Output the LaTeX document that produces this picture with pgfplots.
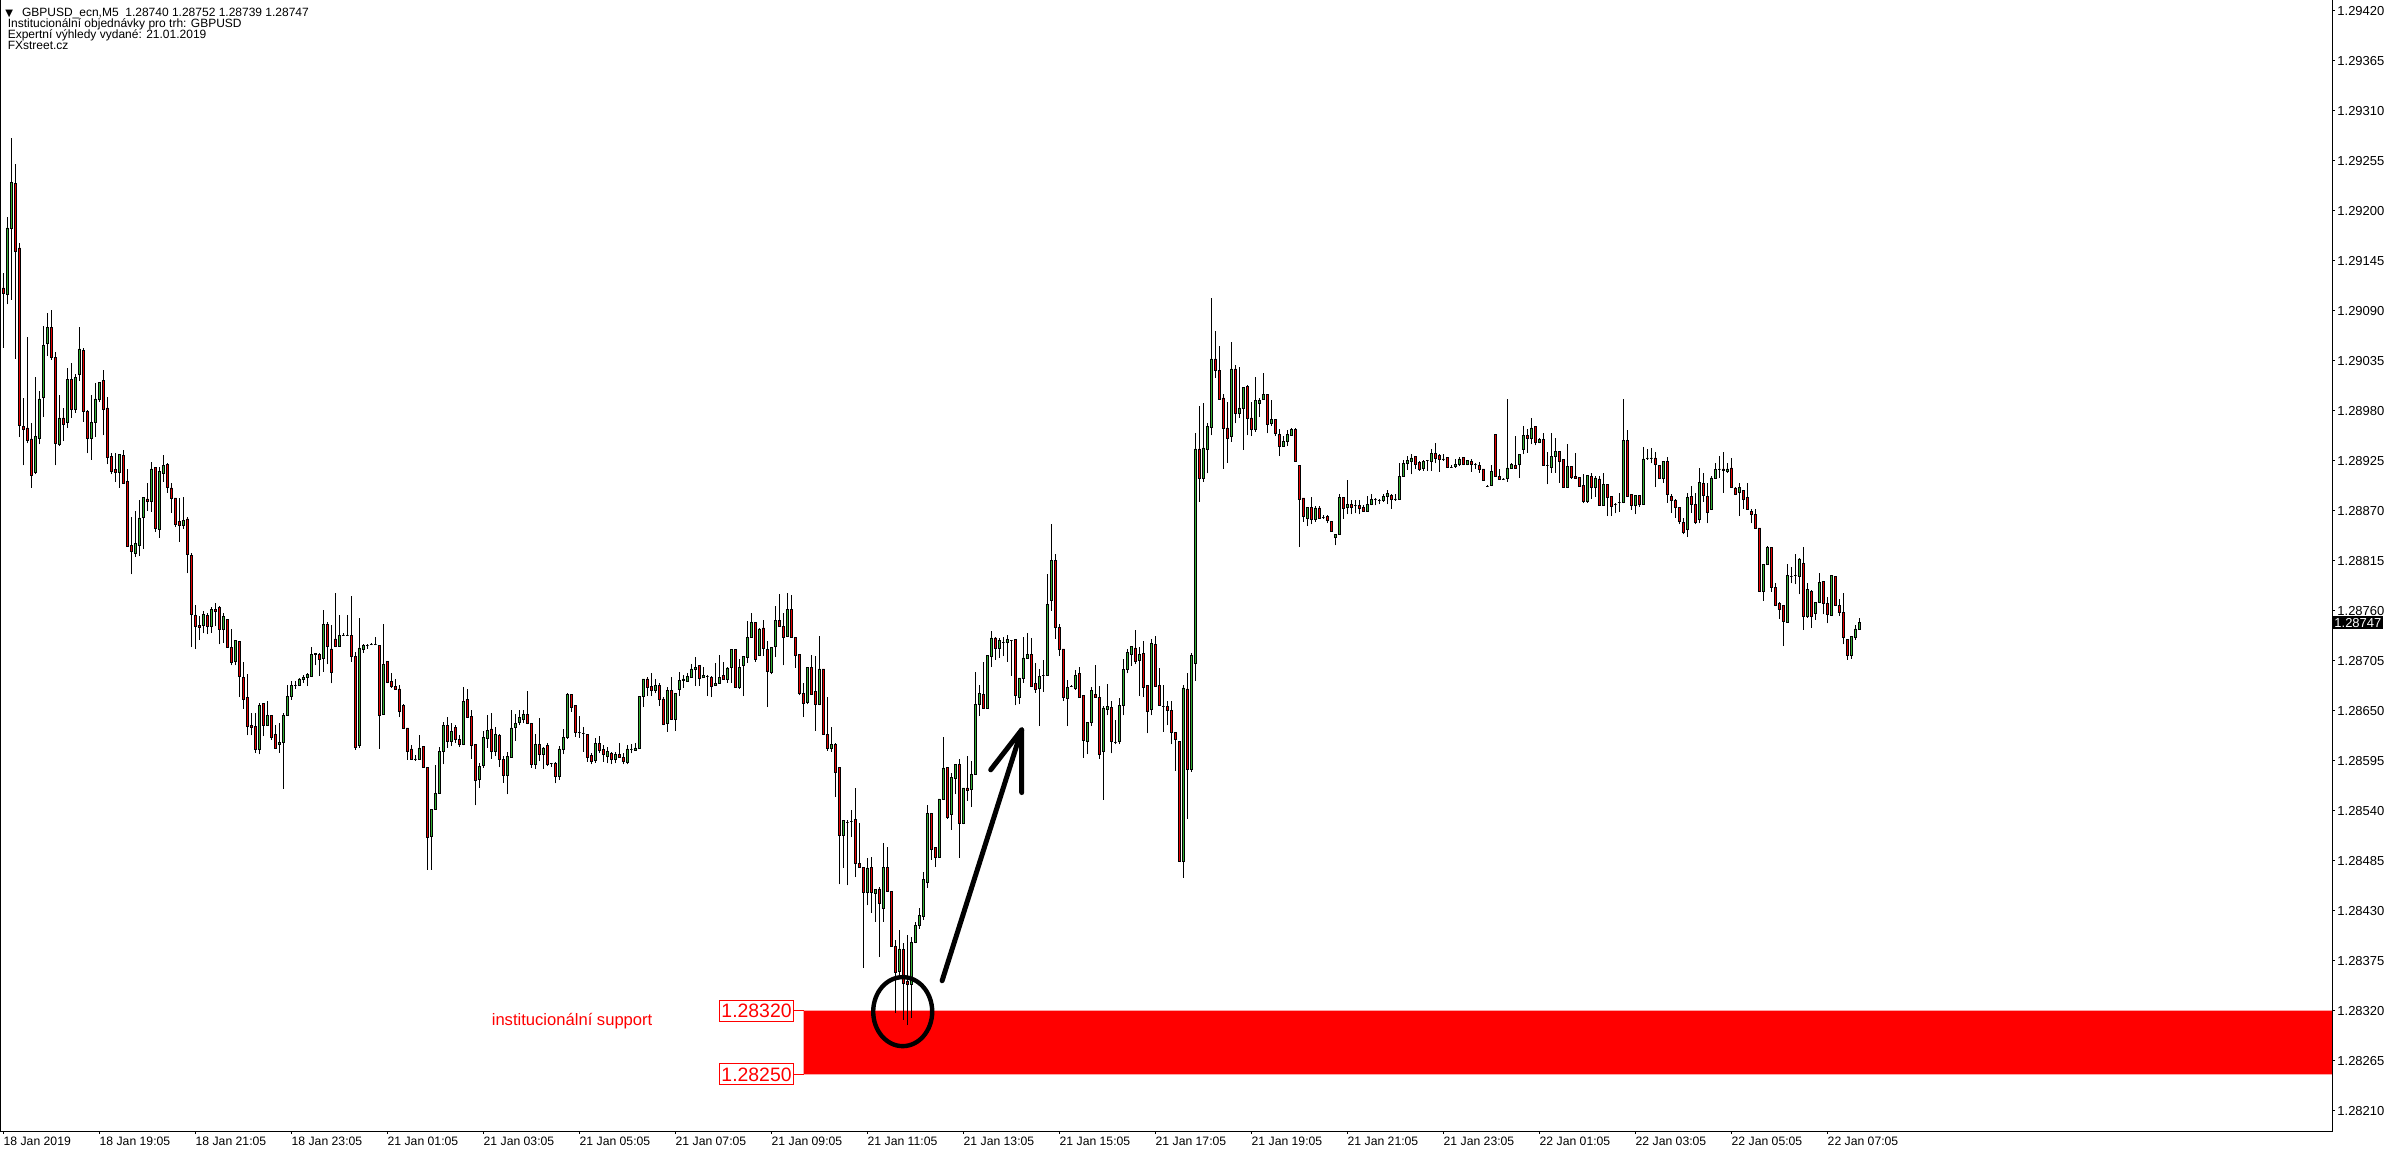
\documentclass[border=0pt]{standalone}
\usepackage{fontspec}
\setmainfont{Liberation Sans}
\newfontfamily\dejavu{DejaVu Sans}
\usepackage{pgfplots}
\usepackage{pgfplotstable}
\pgfplotsset{compat=1.18}
\definecolor{bull}{RGB}{50,175,50}
\definecolor{bear}{RGB}{230,0,0}
\pgfplotstableread{
x o h l c
0 1.29115 1.29131 1.29049 1.29109
1 1.29108 1.29193 1.29097 1.29181
2 1.29181 1.29280 1.29102 1.29231
3 1.29230 1.29251 1.29037 1.29155
4 1.29159 1.29164 1.28951 1.28964
5 1.28963 1.28994 1.28920 1.28960
6 1.28961 1.29061 1.28944 1.28947
7 1.28949 1.28967 1.28895 1.28909
8 1.28912 1.29017 1.28910 1.28952
9 1.28950 1.29002 1.28943 1.28993
10 1.28995 1.29073 1.28973 1.29052
11 1.29054 1.29088 1.29040 1.29072
12 1.29072 1.29091 1.29036 1.29039
13 1.29039 1.29045 1.28920 1.28944
14 1.28943 1.28997 1.28941 1.28972
15 1.28972 1.28983 1.28947 1.28965
16 1.28967 1.29027 1.28961 1.29014
17 1.29014 1.29032 1.28972 1.28982
18 1.28981 1.29020 1.28978 1.29017
19 1.29020 1.29072 1.29013 1.29048
20 1.29046 1.29049 1.28968 1.28979
21 1.28979 1.28981 1.28933 1.28950
22 1.28950 1.28997 1.28926 1.28967
23 1.28967 1.29010 1.28951 1.28993
24 1.28993 1.29011 1.28990 1.29011
25 1.29013 1.29025 1.28953 1.28982
26 1.28983 1.28995 1.28921 1.28929
27 1.28930 1.28933 1.28910 1.28913
28 1.28915 1.28933 1.28902 1.28912
29 1.28912 1.28932 1.28895 1.28932
30 1.28931 1.28937 1.28900 1.28900
31 1.28902 1.28916 1.28831 1.28831
32 1.28832 1.28863 1.28800 1.28825
33 1.28823 1.28870 1.28819 1.28834
34 1.28832 1.28882 1.28820 1.28862
35 1.28863 1.28885 1.28828 1.28885
36 1.28883 1.28901 1.28870 1.28880
37 1.28880 1.28924 1.28869 1.28916
38 1.28918 1.28918 1.28847 1.28851
39 1.28850 1.28918 1.28840 1.28913
40 1.28911 1.28931 1.28902 1.28920
41 1.28921 1.28923 1.28890 1.28896
42 1.28895 1.28901 1.28868 1.28884
43 1.28884 1.28884 1.28852 1.28855
44 1.28858 1.28884 1.28836 1.28854
45 1.28854 1.28885 1.28850 1.28859
46 1.28861 1.28863 1.28801 1.28822
47 1.28821 1.28824 1.28720 1.28756
48 1.28755 1.28766 1.28718 1.28743
49 1.28744 1.28754 1.28728 1.28742
50 1.28744 1.28760 1.28735 1.28756
51 1.28755 1.28758 1.28734 1.28743
52 1.28743 1.28764 1.28736 1.28761
53 1.28761 1.28769 1.28743 1.28759
54 1.28764 1.28765 1.28723 1.28739
55 1.28739 1.28758 1.28725 1.28754
56 1.28750 1.28751 1.28720 1.28720
57 1.28720 1.28740 1.28700 1.28703
58 1.28704 1.28728 1.28700 1.28727
59 1.28726 1.28727 1.28665 1.28688
60 1.28687 1.28704 1.28652 1.28663
61 1.28665 1.28690 1.28623 1.28633
62 1.28634 1.28648 1.28623 1.28632
63 1.28633 1.28648 1.28604 1.28608
64 1.28608 1.28658 1.28602 1.28656
65 1.28658 1.28658 1.28622 1.28634
66 1.28634 1.28661 1.28633 1.28645
67 1.28645 1.28645 1.28618 1.28621
68 1.28624 1.28634 1.28608 1.28609
69 1.28613 1.28637 1.28604 1.28615
70 1.28615 1.28648 1.28564 1.28645
71 1.28645 1.28678 1.28644 1.28666
72 1.28666 1.28683 1.28662 1.28678
73 1.28678 1.28683 1.28674 1.28678
74 1.28678 1.28686 1.28677 1.28685
75 1.28685 1.28689 1.28681 1.28687
76 1.28687 1.28692 1.28677 1.28690
77 1.28688 1.28720 1.28687 1.28712
78 1.28712 1.28714 1.28700 1.28713
79 1.28712 1.28714 1.28688 1.28706
80 1.28708 1.28761 1.28693 1.28745
81 1.28745 1.28748 1.28701 1.28721
82 1.28718 1.28744 1.28680 1.28692
83 1.28729 1.28779 1.28720 1.28721
84 1.28721 1.28755 1.28721 1.28733
85 1.28733 1.28735 1.28732 1.28733
86 1.28733 1.28755 1.28732 1.28733
87 1.28733 1.28776 1.28704 1.28710
88 1.28710 1.28715 1.28607 1.28610
89 1.28612 1.28752 1.28609 1.28719
90 1.28718 1.28723 1.28714 1.28722
91 1.28722 1.28723 1.28718 1.28722
92 1.28723 1.28724 1.28722 1.28723
93 1.28723 1.28731 1.28722 1.28723
94 1.28722 1.28722 1.28608 1.28645
95 1.28646 1.28745 1.28646 1.28701
96 1.28704 1.28704 1.28680 1.28681
97 1.28682 1.28691 1.28675 1.28677
98 1.28677 1.28685 1.28673 1.28674
99 1.28674 1.28678 1.28643 1.28649
100 1.28656 1.28657 1.28630 1.28631
101 1.28631 1.28631 1.28596 1.28605
102 1.28608 1.28612 1.28596 1.28597
103 1.28597 1.28601 1.28595 1.28597
104 1.28597 1.28623 1.28596 1.28609
105 1.28611 1.28611 1.28588 1.28588
106 1.28588 1.28588 1.28475 1.28511
107 1.28512 1.28542 1.28475 1.28541
108 1.28541 1.28590 1.28541 1.28559
109 1.28559 1.28610 1.28559 1.28605
110 1.28605 1.28638 1.28591 1.28634
111 1.28634 1.28643 1.28609 1.28616
112 1.28616 1.28636 1.28611 1.28627
113 1.28632 1.28634 1.28615 1.28619
114 1.28618 1.28623 1.28610 1.28613
115 1.28613 1.28676 1.28612 1.28660
116 1.28662 1.28674 1.28643 1.28643
117 1.28644 1.28651 1.28597 1.28612
118 1.28613 1.28613 1.28546 1.28573
119 1.28575 1.28593 1.28565 1.28589
120 1.28590 1.28628 1.28587 1.28621
121 1.28620 1.28645 1.28609 1.28628
122 1.28630 1.28647 1.28597 1.28605
123 1.28605 1.28632 1.28600 1.28624
124 1.28623 1.28624 1.28588 1.28596
125 1.28596 1.28600 1.28571 1.28579
126 1.28579 1.28605 1.28558 1.28600
127 1.28599 1.28651 1.28598 1.28631
128 1.28632 1.28646 1.28617 1.28636
129 1.28637 1.28651 1.28634 1.28643
130 1.28641 1.28651 1.28636 1.28646
131 1.28646 1.28672 1.28635 1.28636
132 1.28636 1.28636 1.28587 1.28591
133 1.28591 1.28624 1.28586 1.28613
134 1.28613 1.28642 1.28595 1.28602
135 1.28602 1.28610 1.28586 1.28609
136 1.28612 1.28614 1.28589 1.28591
137 1.28592 1.28593 1.28588 1.28592
138 1.28592 1.28594 1.28570 1.28578
139 1.28578 1.28611 1.28574 1.28608
140 1.28608 1.28630 1.28602 1.28621
141 1.28621 1.28670 1.28619 1.28668
142 1.28668 1.28668 1.28649 1.28654
143 1.28656 1.28656 1.28621 1.28626
144 1.28626 1.28644 1.28620 1.28626
145 1.28625 1.28632 1.28605 1.28625
146 1.28624 1.28624 1.28594 1.28599
147 1.28601 1.28603 1.28591 1.28594
148 1.28595 1.28620 1.28593 1.28614
149 1.28614 1.28622 1.28603 1.28606
150 1.28607 1.28612 1.28594 1.28602
151 1.28600 1.28610 1.28592 1.28605
152 1.28603 1.28605 1.28591 1.28597
153 1.28597 1.28605 1.28592 1.28602
154 1.28602 1.28614 1.28598 1.28599
155 1.28599 1.28604 1.28591 1.28594
156 1.28593 1.28612 1.28591 1.28608
157 1.28607 1.28613 1.28603 1.28607
158 1.28606 1.28615 1.28606 1.28609
159 1.28609 1.28666 1.28609 1.28666
160 1.28666 1.28685 1.28654 1.28685
161 1.28685 1.28687 1.28666 1.28676
162 1.28677 1.28692 1.28666 1.28672
163 1.28672 1.28685 1.28669 1.28678
164 1.28678 1.28681 1.28655 1.28663
165 1.28663 1.28665 1.28634 1.28635
166 1.28636 1.28676 1.28627 1.28672
167 1.28672 1.28687 1.28641 1.28641
168 1.28641 1.28669 1.28628 1.28669
169 1.28674 1.28693 1.28666 1.28683
170 1.28683 1.28689 1.28675 1.28685
171 1.28682 1.28691 1.28682 1.28688
172 1.28687 1.28701 1.28687 1.28696
173 1.28695 1.28709 1.28677 1.28698
174 1.28700 1.28700 1.28677 1.28686
175 1.28687 1.28698 1.28686 1.28689
176 1.28688 1.28689 1.28666 1.28688
177 1.28687 1.28688 1.28665 1.28677
178 1.28678 1.28702 1.28677 1.28680
179 1.28680 1.28711 1.28680 1.28687
180 1.28689 1.28704 1.28684 1.28685
181 1.28685 1.28698 1.28681 1.28697
182 1.28698 1.28718 1.28681 1.28717
183 1.28717 1.28717 1.28675 1.28676
184 1.28676 1.28707 1.28674 1.28698
185 1.28700 1.28710 1.28666 1.28710
186 1.28709 1.28749 1.28703 1.28731
187 1.28731 1.28758 1.28731 1.28747
188 1.28747 1.28747 1.28704 1.28707
189 1.28711 1.28741 1.28711 1.28740
190 1.28741 1.28750 1.28710 1.28719
191 1.28717 1.28727 1.28654 1.28693
192 1.28692 1.28720 1.28690 1.28720
193 1.28721 1.28765 1.28709 1.28749
194 1.28749 1.28778 1.28743 1.28743
195 1.28743 1.28757 1.28700 1.28731
196 1.28732 1.28779 1.28731 1.28761
197 1.28761 1.28777 1.28731 1.28731
198 1.28731 1.28731 1.28697 1.28711
199 1.28712 1.28712 1.28667 1.28669
200 1.28669 1.28681 1.28643 1.28658
201 1.28659 1.28698 1.28657 1.28698
202 1.28698 1.28711 1.28668 1.28668
203 1.28671 1.28710 1.28628 1.28657
204 1.28657 1.28732 1.28656 1.28696
205 1.28696 1.28696 1.28624 1.28624
206 1.28624 1.28665 1.28606 1.28609
207 1.28609 1.28632 1.28605 1.28613
208 1.28613 1.28615 1.28555 1.28582
209 1.28588 1.28588 1.28459 1.28513
210 1.28513 1.28530 1.28477 1.28529
211 1.28527 1.28530 1.28458 1.28527
212 1.28528 1.28541 1.28511 1.28528
213 1.28530 1.28565 1.28467 1.28482
214 1.28482 1.28526 1.28477 1.28478
215 1.28478 1.28478 1.28367 1.28450
216 1.28450 1.28488 1.28436 1.28477
217 1.28478 1.28489 1.28428 1.28450
218 1.28449 1.28453 1.28418 1.28453
219 1.28454 1.28456 1.28379 1.28438
220 1.28433 1.28505 1.28418 1.28478
221 1.28478 1.28500 1.28451 1.28451
222 1.28451 1.28451 1.28391 1.28391
223 1.28391 1.28398 1.28318 1.28362
224 1.28363 1.28409 1.28359 1.28388
225 1.28387 1.28394 1.28310 1.28350
226 1.28352 1.28403 1.28304 1.28349
227 1.28349 1.28401 1.28312 1.28395
228 1.28395 1.28418 1.28394 1.28414
229 1.28414 1.28433 1.28410 1.28425
230 1.28424 1.28473 1.28420 1.28464
231 1.28461 1.28546 1.28455 1.28537
232 1.28537 1.28537 1.28486 1.28498
233 1.28500 1.28500 1.28478 1.28489
234 1.28489 1.28553 1.28489 1.28553
235 1.28553 1.28621 1.28553 1.28587
236 1.28588 1.28588 1.28531 1.28533
237 1.28536 1.28581 1.28519 1.28577
238 1.28576 1.28591 1.28558 1.28591
239 1.28591 1.28597 1.28488 1.28526
240 1.28526 1.28565 1.28525 1.28565
241 1.28565 1.28600 1.28551 1.28562
242 1.28563 1.28595 1.28544 1.28580
243 1.28580 1.28693 1.28580 1.28657
244 1.28657 1.28678 1.28644 1.28669
245 1.28668 1.28704 1.28653 1.28653
246 1.28653 1.28711 1.28653 1.28711
247 1.28710 1.28738 1.28698 1.28730
248 1.28730 1.28731 1.28706 1.28719
249 1.28719 1.28730 1.28708 1.28727
250 1.28725 1.28731 1.28710 1.28725
251 1.28725 1.28733 1.28704 1.28728
252 1.28727 1.28728 1.28688 1.28727
253 1.28728 1.28728 1.28656 1.28667
254 1.28665 1.28686 1.28657 1.28686
255 1.28686 1.28731 1.28681 1.28708
256 1.28708 1.28735 1.28708 1.28712
257 1.28712 1.28730 1.28677 1.28677
258 1.28680 1.28702 1.28670 1.28673
259 1.28675 1.28696 1.28633 1.28688
260 1.28689 1.28706 1.28671 1.28689
261 1.28689 1.28800 1.28689 1.28767
262 1.28771 1.28855 1.28760 1.28815
263 1.28815 1.28822 1.28729 1.28742
264 1.28742 1.28745 1.28710 1.28718
265 1.28718 1.28718 1.28661 1.28665
266 1.28664 1.28684 1.28633 1.28676
267 1.28677 1.28678 1.28676 1.28677
268 1.28675 1.28695 1.28673 1.28689
269 1.28691 1.28698 1.28665 1.28665
270 1.28667 1.28667 1.28598 1.28617
271 1.28616 1.28637 1.28602 1.28637
272 1.28637 1.28676 1.28633 1.28672
273 1.28668 1.28700 1.28664 1.28665
274 1.28665 1.28677 1.28597 1.28602
275 1.28605 1.28655 1.28552 1.28653
276 1.28652 1.28679 1.28645 1.28655
277 1.28654 1.28661 1.28603 1.28616
278 1.28615 1.28640 1.28613 1.28615
279 1.28616 1.28664 1.28613 1.28656
280 1.28656 1.28707 1.28645 1.28695
281 1.28695 1.28718 1.28691 1.28714
282 1.28712 1.28721 1.28699 1.28721
283 1.28719 1.28739 1.28701 1.28704
284 1.28705 1.28720 1.28666 1.28712
285 1.28713 1.28727 1.28665 1.28676
286 1.28678 1.28678 1.28625 1.28649
287 1.28651 1.28729 1.28645 1.28724
288 1.28723 1.28732 1.28677 1.28677
289 1.28678 1.28697 1.28656 1.28656
290 1.28655 1.28678 1.28627 1.28655
291 1.28655 1.28661 1.28634 1.28650
292 1.28650 1.28661 1.28613 1.28626
293 1.28626 1.28626 1.28584 1.28618
294 1.28616 1.28616 1.28484 1.28484
295 1.28484 1.28678 1.28466 1.28675
296 1.28674 1.28691 1.28531 1.28585
297 1.28585 1.28714 1.28583 1.28711
298 1.28702 1.28955 1.28683 1.28938
299 1.28938 1.28985 1.28880 1.28906
300 1.28906 1.28988 1.28902 1.28939
301 1.28938 1.28967 1.28911 1.28963
302 1.28962 1.29104 1.28953 1.29037
303 1.29037 1.29068 1.29016 1.29024
304 1.29024 1.29051 1.28992 1.28992
305 1.28994 1.28998 1.28916 1.28961
306 1.28961 1.28990 1.28923 1.28950
307 1.28952 1.29056 1.28946 1.29026
308 1.29026 1.29030 1.28966 1.28977
309 1.28977 1.29028 1.28972 1.28983
310 1.28983 1.29006 1.28937 1.29006
311 1.29007 1.29008 1.28953 1.28972
312 1.28972 1.28990 1.28952 1.28960
313 1.28960 1.29017 1.28957 1.28991
314 1.28988 1.28994 1.28973 1.28991
315 1.28992 1.29022 1.28992 1.28998
316 1.28998 1.28998 1.28955 1.28965
317 1.28966 1.28992 1.28963 1.28970
318 1.28970 1.28970 1.28952 1.28955
319 1.28954 1.28960 1.28930 1.28941
320 1.28941 1.28952 1.28941 1.28946
321 1.28946 1.28959 1.28941 1.28954
322 1.28953 1.28961 1.28953 1.28959
323 1.28959 1.28961 1.28924 1.28924
324 1.28920 1.28920 1.28830 1.28883
325 1.28884 1.28884 1.28858 1.28864
326 1.28862 1.28874 1.28853 1.28874
327 1.28874 1.28885 1.28855 1.28860
328 1.28860 1.28875 1.28858 1.28873
329 1.28873 1.28875 1.28861 1.28862
330 1.28863 1.28865 1.28861 1.28863
331 1.28864 1.28865 1.28856 1.28859
332 1.28858 1.28858 1.28847 1.28847
333 1.28841 1.28844 1.28832 1.28844
334 1.28844 1.28888 1.28844 1.28885
335 1.28885 1.28885 1.28861 1.28873
336 1.28874 1.28904 1.28866 1.28877
337 1.28877 1.28882 1.28866 1.28874
338 1.28876 1.28882 1.28867 1.28876
339 1.28876 1.28882 1.28866 1.28873
340 1.28874 1.28876 1.28869 1.28869
341 1.28869 1.28886 1.28869 1.28877
342 1.28877 1.28888 1.28876 1.28882
343 1.28882 1.28884 1.28876 1.28882
344 1.28881 1.28883 1.28877 1.28881
345 1.28881 1.28888 1.28880 1.28886
346 1.28886 1.28893 1.28877 1.28889
347 1.28887 1.28888 1.28872 1.28882
348 1.28883 1.28888 1.28881 1.28883
349 1.28883 1.28922 1.28882 1.28908
350 1.28908 1.28926 1.28908 1.28922
351 1.28922 1.28930 1.28915 1.28925
352 1.28924 1.28932 1.28910 1.28928
353 1.28930 1.28930 1.28916 1.28921
354 1.28923 1.28925 1.28914 1.28916
355 1.28917 1.28926 1.28914 1.28924
356 1.28925 1.28926 1.28914 1.28925
357 1.28924 1.28938 1.28914 1.28933
358 1.28933 1.28944 1.28922 1.28928
359 1.28931 1.28932 1.28913 1.28927
360 1.28927 1.28932 1.28925 1.28927
361 1.28929 1.28929 1.28917 1.28918
362 1.28918 1.28920 1.28917 1.28918
363 1.28919 1.28927 1.28917 1.28921
364 1.28921 1.28929 1.28919 1.28927
365 1.28929 1.28929 1.28920 1.28921
366 1.28921 1.28926 1.28920 1.28925
367 1.28924 1.28927 1.28913 1.28921
368 1.28921 1.28922 1.28916 1.28921
369 1.28920 1.28924 1.28912 1.28915
370 1.28916 1.28916 1.28903 1.28903
371 1.28897 1.28898 1.28896 1.28897
372 1.28898 1.28920 1.28897 1.28913
373 1.28954 1.28954 1.28908 1.28908
374 1.28908 1.28916 1.28905 1.28905
375 1.28905 1.28906 1.28904 1.28905
376 1.28906 1.28993 1.28902 1.28917
377 1.28917 1.28923 1.28917 1.28921
378 1.28920 1.28952 1.28916 1.28917
379 1.28921 1.28932 1.28906 1.28932
380 1.28938 1.28963 1.28932 1.28953
381 1.28953 1.28960 1.28934 1.28950
382 1.28950 1.28972 1.28943 1.28961
383 1.28963 1.28963 1.28942 1.28945
384 1.28945 1.28950 1.28944 1.28948
385 1.28948 1.28955 1.28920 1.28920
386 1.28920 1.28935 1.28899 1.28920
387 1.28918 1.28956 1.28912 1.28930
388 1.28930 1.28950 1.28912 1.28935
389 1.28935 1.28935 1.28901 1.28924
390 1.28926 1.28926 1.28895 1.28896
391 1.28896 1.28943 1.28896 1.28919
392 1.28919 1.28919 1.28905 1.28907
393 1.28908 1.28934 1.28906 1.28906
394 1.28907 1.28907 1.28897 1.28897
395 1.28898 1.28910 1.28878 1.28880
396 1.28880 1.28909 1.28879 1.28909
397 1.28908 1.28911 1.28883 1.28896
398 1.28896 1.28908 1.28885 1.28906
399 1.28905 1.28908 1.28876 1.28876
400 1.28876 1.28912 1.28876 1.28899
401 1.28899 1.28899 1.28864 1.28885
402 1.28886 1.28886 1.28864 1.28875
403 1.28877 1.28878 1.28867 1.28877
404 1.28879 1.28889 1.28869 1.28879
405 1.28879 1.28993 1.28878 1.28947
406 1.28947 1.28959 1.28886 1.28886
407 1.28888 1.28888 1.28871 1.28876
408 1.28876 1.28887 1.28866 1.28887
409 1.28887 1.28887 1.28874 1.28877
410 1.28877 1.28940 1.28877 1.28927
411 1.28928 1.28938 1.28926 1.28928
412 1.28928 1.28939 1.28922 1.28928
413 1.28928 1.28935 1.28896 1.28921
414 1.28920 1.28920 1.28905 1.28906
415 1.28906 1.28924 1.28901 1.28924
416 1.28924 1.28929 1.28879 1.28888
417 1.28886 1.28888 1.28868 1.28881
418 1.28881 1.28883 1.28862 1.28874
419 1.28874 1.28874 1.28855 1.28858
420 1.28857 1.28862 1.28844 1.28846
421 1.28849 1.28890 1.28841 1.28885
422 1.28886 1.28897 1.28868 1.28877
423 1.28877 1.28889 1.28855 1.28857
424 1.28861 1.28917 1.28856 1.28901
425 1.28900 1.28911 1.28880 1.28887
426 1.28886 1.28900 1.28856 1.28868
427 1.28872 1.28908 1.28872 1.28906
428 1.28906 1.28923 1.28906 1.28915
429 1.28916 1.28930 1.28906 1.28916
430 1.28916 1.28935 1.28890 1.28914
431 1.28913 1.28923 1.28912 1.28916
432 1.28917 1.28928 1.28896 1.28896
433 1.28895 1.28896 1.28887 1.28888
434 1.28890 1.28900 1.28864 1.28896
435 1.28892 1.28892 1.28872 1.28882
436 1.28885 1.28900 1.28871 1.28871
437 1.28869 1.28872 1.28856 1.28866
438 1.28866 1.28872 1.28850 1.28851
439 1.28851 1.28851 1.28781 1.28781
440 1.28781 1.28811 1.28771 1.28811
441 1.28811 1.28831 1.28811 1.28830
442 1.28830 1.28830 1.28781 1.28786
443 1.28786 1.28791 1.28765 1.28766
444 1.28768 1.28770 1.28751 1.28762
445 1.28766 1.28766 1.28721 1.28748
446 1.28747 1.28811 1.28747 1.28799
447 1.28798 1.28808 1.28790 1.28798
448 1.28799 1.28822 1.28789 1.28799
449 1.28798 1.28818 1.28778 1.28817
450 1.28812 1.28830 1.28739 1.28754
451 1.28754 1.28791 1.28752 1.28783
452 1.28781 1.28783 1.28741 1.28754
453 1.28757 1.28770 1.28750 1.28769
454 1.28769 1.28802 1.28768 1.28791
455 1.28792 1.28792 1.28756 1.28768
456 1.28768 1.28775 1.28746 1.28756
457 1.28755 1.28799 1.28755 1.28799
458 1.28798 1.28798 1.28765 1.28766
459 1.28766 1.28773 1.28754 1.28758
460 1.28758 1.28780 1.28723 1.28731
461 1.28728 1.28728 1.28706 1.28711
462 1.28711 1.28732 1.28707 1.28732
463 1.28731 1.28744 1.28728 1.28740
464 1.28740 1.28752 1.28739 1.28747
}\bars
% build one path for all wicks and one for each body colour, from the table
\pgfplotstablegetrowsof{\bars}%
\pgfmathtruncatemacro\nrows{\pgfplotsretval-1}%
\gdef\wickpath{}\gdef\bullpath{}\gdef\bearpath{}%
\foreach \ri in {0,...,\nrows}{%
  \pgfplotstablegetelem{\ri}{x}\of\bars\let\cX\pgfplotsretval
  \pgfplotstablegetelem{\ri}{o}\of\bars\let\cO\pgfplotsretval
  \pgfplotstablegetelem{\ri}{h}\of\bars\let\cH\pgfplotsretval
  \pgfplotstablegetelem{\ri}{l}\of\bars\let\cL\pgfplotsretval
  \pgfplotstablegetelem{\ri}{c}\of\bars\let\cC\pgfplotsretval
  \pgfmathsetmacro\cXa{\cX-0.325}%
  \pgfmathsetmacro\cXb{\cX+0.325}%
  \xdef\wickpath{\wickpath(\cX,\cL)(\cX,\cH)(\cX,nan)}%
  \ifdim\cC pt<\cO pt\relax
    \xdef\bearpath{\bearpath(\cXa,\cO)(\cXb,\cO)(\cXb,\cC)(\cXa,\cC)(\cXa,\cO)(\cX,nan)}%
  \else
    \xdef\bullpath{\bullpath(\cXa,\cO)(\cXb,\cO)(\cXb,\cC)(\cXa,\cC)(\cXa,\cO)(\cX,nan)}%
  \fi
}%
\edef\drawwicks{\noexpand\addplot[black, line width=0.5pt, mark=none, unbounded coords=jump, forget plot] coordinates {\wickpath};}%
\edef\drawbull{\noexpand\addplot[fill=bull, draw=black, line width=0.35pt, mark=none, unbounded coords=jump, forget plot] coordinates {\bullpath};}%
\edef\drawbear{\noexpand\addplot[fill=bear, draw=black, line width=0.35pt, mark=none, unbounded coords=jump, forget plot] coordinates {\bearpath};}%

\begin{document}
\begin{tikzpicture}
\begin{axis}[
  scale only axis, width=1166pt, height=565.5pt,
  xmin=-0.825, xmax=582.175, ymin=1.281877, ymax=1.294318,
  clip=false,
  axis line style={draw=none},
  tick align=outside, major tick length=1.5pt,
  tick style={black, line width=0.5pt},
  xtick pos=left, ytick pos=right, yticklabel pos=right,
  xtick={0,24,...,456},
  xticklabels={18 Jan 2019, 18 Jan 19:05, 18 Jan 21:05, 18 Jan 23:05, 21 Jan 01:05, 21 Jan 03:05, 21 Jan 05:05, 21 Jan 07:05, 21 Jan 09:05, 21 Jan 11:05, 21 Jan 13:05, 21 Jan 15:05, 21 Jan 17:05, 21 Jan 19:05, 21 Jan 21:05, 21 Jan 23:05, 22 Jan 01:05, 22 Jan 03:05, 22 Jan 05:05, 22 Jan 07:05},
  xticklabel style={anchor=north west, inner sep=0pt, yshift=-1.3pt, font=\fontsize{6.1}{7}\selectfont},
  ytick={1.28210,1.28265,1.28320,1.28375,1.28430,1.28485,1.28540,1.28595,1.28650,1.28705,1.28760,1.28815,1.28870,1.28925,1.28980,1.29035,1.29090,1.29145,1.29200,1.29255,1.29310,1.29365,1.29420},
  yticklabels={1.28210,1.28265,1.28320,1.28375,1.28430,1.28485,1.28540,1.28595,1.28650,1.28705,1.28760,1.28815,1.28870,1.28925,1.28980,1.29035,1.29090,1.29145,1.29200,1.29255,1.29310,1.29365,1.29420},
  yticklabel style={anchor=west, inner sep=0pt, xshift=1pt, font=\fontsize{6.5}{7}\selectfont},
]
% support zone
\addplot[draw=none, fill=red, forget plot] coordinates {(200.1,1.28250) (582.175,1.28250) (582.175,1.28320) (200.1,1.28320) (200.1,1.28250)};
% candles
\drawwicks
\drawbull
\drawbear

% frame
\draw[line width=0.5pt] (rel axis cs:0,1) -- (rel axis cs:0,0) -- (rel axis cs:1,0) -- (rel axis cs:1,1);

% support labels
\draw[red, line width=0.5pt] (axis cs:197.7,1.28320) -- (axis cs:200.1,1.28320);
\draw[red, line width=0.5pt] (axis cs:197.7,1.28250) -- (axis cs:200.1,1.28250);
\node[draw=red, fill=white, text=red, anchor=east, line width=0.5pt, inner xsep=1pt, inner ysep=1.8pt, font=\fontsize{9.7}{10}\selectfont] at (axis cs:197.7,1.28320) {1.28320};
\node[draw=red, fill=white, text=red, anchor=east, line width=0.5pt, inner xsep=1pt, inner ysep=1.8pt, font=\fontsize{9.7}{10}\selectfont] at (axis cs:197.7,1.28250) {1.28250};
\node[text=red, font=\fontsize{8.3}{9}\selectfont] at (axis cs:142.2,1.28309) {institucionální support};

% ellipse and arrow
\draw[line width=2.2pt] (axis cs:224.85,1.28319) ellipse [x radius=14.75pt, y radius=17.25pt];
\draw[line width=2.5pt, line cap=round] (axis cs:234.7,1.28353) -- (axis cs:254.6,1.28629);
\draw[line width=2.5pt, line cap=round, line join=round] (axis cs:246.85,1.28585) -- (axis cs:254.6,1.28629) -- (axis cs:254.6,1.28560);

% current price
\node[fill=black, text=white, anchor=west, inner xsep=1pt, inner ysep=0pt, minimum height=6.7pt, font=\fontsize{6.5}{7}\selectfont] at (axis cs:582.175,1.28747) {1.28747};
\end{axis}

% header
\node[anchor=base west, inner sep=0pt, font=\dejavu\fontsize{5}{6}\selectfont] at ([xshift=2.5pt, yshift=-8.5pt]current axis.north west) {▼};
\node[anchor=base west, inner sep=0pt, font=\fontsize{6}{7}\selectfont] at ([xshift=10.8pt, yshift=-8.5pt]current axis.north west) {GBPUSD\_ecn,M5\ \ 1.28740 1.28752 1.28739 1.28747};
\node[anchor=base west, inner sep=0pt, font=\fontsize{6}{7}\selectfont] at ([xshift=3.7pt, yshift=-14pt]current axis.north west) {Institucionální objednávky pro trh: GBPUSD};
\node[anchor=base west, inner sep=0pt, font=\fontsize{6}{7}\selectfont] at ([xshift=3.7pt, yshift=-19.35pt]current axis.north west) {Expertní výhledy vydané: 21.01.2019};
\node[anchor=base west, inner sep=0pt, font=\fontsize{6}{7}\selectfont] at ([xshift=3.7pt, yshift=-24.65pt]current axis.north west) {FXstreet.cz};

\pgfresetboundingbox
\path[use as bounding box] ([yshift=-11.5pt]current axis.south west) rectangle ([xshift=32pt]current axis.north east);
\end{tikzpicture}
\end{document}
